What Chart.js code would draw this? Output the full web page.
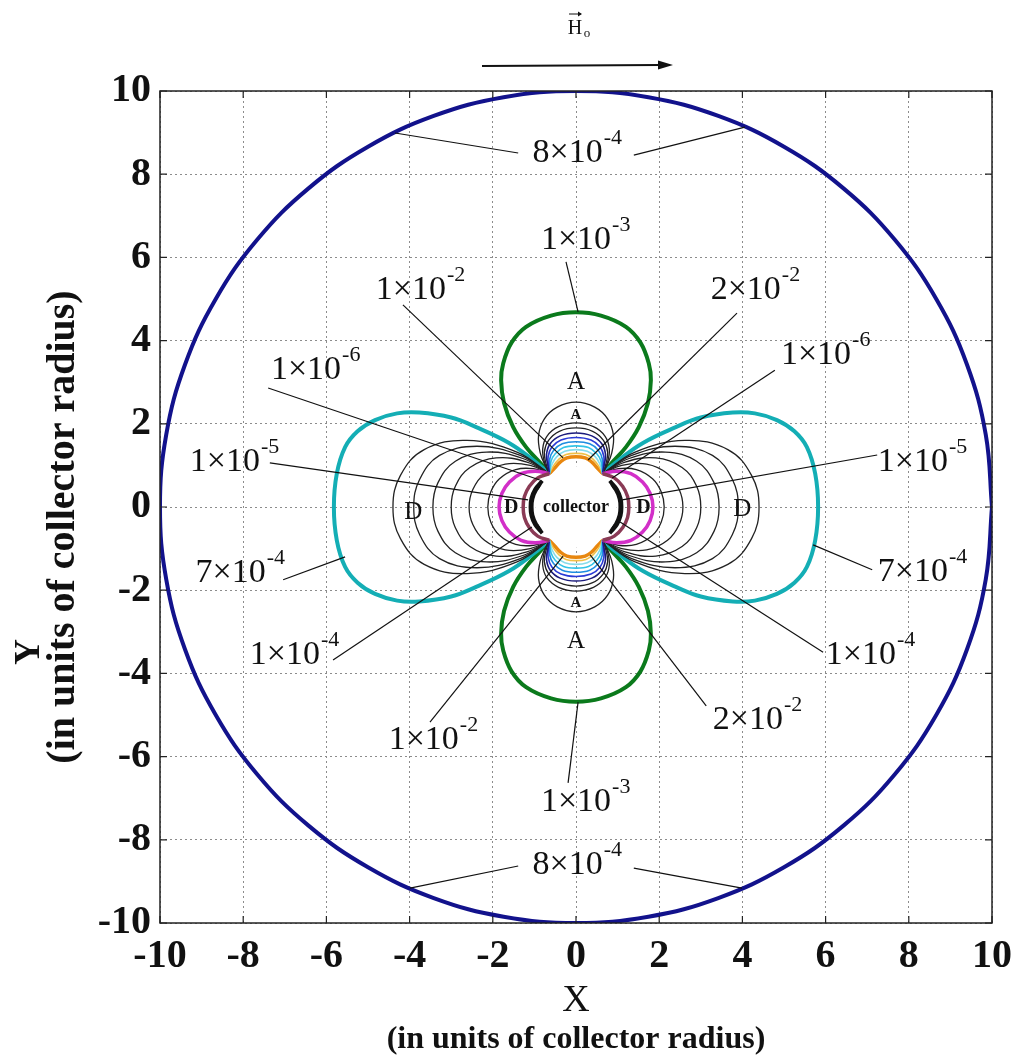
<!DOCTYPE html>
<html>
<head>
<meta charset="utf-8">
<title>Capture contours around the collector</title>
<script src="https://cdn.jsdelivr.net/npm/chart.js@4.4.1/dist/chart.umd.min.js"></script>
<style>
  html, body { margin: 0; padding: 0; background: #fff; }
  #wrap { width: 1014px; height: 1064px; }
</style>
</head>
<body>
<div id="wrap"><canvas id="fieldChart" width="1014" height="1064"></canvas></div>
<script>
// tick positions, in collector radii
const xTicks = [-10, -8, -6, -4, -2, 0, 2, 4, 6, 8, 10];
const yTicks = [-10, -8, -6, -4, -2, 0, 2, 4, 6, 8, 10];

// contour points, one quadrant each (x >= 0, y >= 0); the rest is mirrored
// 8x10^-4 : outer ring, from (r,0) round to (0,r)
const ringQuarter = [[10, 0], [9.85, 1.74], [9.40, 3.42], [8.66, 5.00], [7.66, 6.43],
  [6.43, 7.66], [5.00, 8.66], [3.42, 9.40], [1.74, 9.85], [0, 10]];
// collector surface
const collectorQuarter = [[0.98, 0], [0.905, 0.375], [0.693, 0.693], [0.375, 0.905], [0, 0.98]];

// horizontal (D) lobes, from the cusp near the collector out to the x axis
const cyanLobe = [[0.64, 0.80], [1.03, 1.13], [1.61, 1.54], [2.40, 1.92], [3.00, 2.15], [3.77, 2.27],
  [4.30, 2.25], [4.83, 2.09], [5.25, 1.82], [5.55, 1.44], [5.75, 0.80], [5.82, 0]];
const blackLobesD = [
  [[0.64, 0.80], [1.42, 1.32], [2.62, 1.60], [3.65, 1.38], [4.22, 0.76], [4.40, 0]],
  [[0.64, 0.80], [1.34, 1.24], [2.38, 1.46], [3.28, 1.24], [3.76, 0.66], [3.90, 0]],
  [[0.64, 0.80], [1.26, 1.16], [2.15, 1.32], [2.90, 1.10], [3.32, 0.58], [3.44, 0]],
  [[0.64, 0.80], [1.18, 1.08], [1.92, 1.18], [2.55, 0.95], [2.90, 0.50], [3.00, 0]],
  [[0.64, 0.80], [1.10, 1.00], [1.70, 1.03], [2.20, 0.80], [2.48, 0.42], [2.57, 0]],
  [[0.64, 0.80], [1.02, 0.92], [1.45, 0.90], [1.84, 0.68], [2.05, 0.36], [2.12, 0]]
];
const magentaLobe = [[0.64, 0.80], [0.98, 0.86], [1.32, 0.80], [1.60, 0.60], [1.78, 0.33], [1.85, 0]];
const maroonLobe = [[0.64, 0.80], [0.92, 0.70], [1.12, 0.50], [1.24, 0.25], [1.27, 0]];
const edgeLobe = [[0.80, 0.62], [0.97, 0.42], [1.06, 0.20], [1.08, 0]];

// vertical (A) lobes, from the y axis down to the cusp
const greenLobe = [[0, 4.68], [0.60, 4.60], [1.20, 4.33], [1.55, 3.95], [1.75, 3.45], [1.80, 3.05],
  [1.73, 2.50], [1.51, 1.92], [1.20, 1.44], [0.85, 1.05], [0.64, 0.80]];
const blackLobesA = [
  [[0, 2.52], [0.45, 2.40], [0.76, 2.12], [0.90, 1.72], [0.86, 1.30], [0.72, 0.95], [0.64, 0.80]],
  [[0, 2.02], [0.42, 1.93], [0.70, 1.70], [0.80, 1.40], [0.76, 1.08], [0.64, 0.80]],
  [[0, 1.90], [0.40, 1.82], [0.66, 1.60], [0.76, 1.32], [0.72, 1.04], [0.64, 0.80]]
];
const colourLobesA = [
  [[0, 1.78], [0.38, 1.71], [0.62, 1.52], [0.71, 1.26], [0.68, 1.02], [0.64, 0.80]],
  [[0, 1.67], [0.36, 1.61], [0.58, 1.44], [0.67, 1.21], [0.66, 0.99], [0.64, 0.80]],
  [[0, 1.57], [0.33, 1.52], [0.54, 1.36], [0.63, 1.16], [0.64, 0.80]],
  [[0, 1.47], [0.30, 1.43], [0.50, 1.28], [0.60, 1.10], [0.64, 0.80]],
  [[0, 1.38], [0.27, 1.34], [0.46, 1.21], [0.57, 1.04], [0.64, 0.80]],
  [[0, 1.29], [0.24, 1.26], [0.42, 1.14], [0.54, 0.99], [0.64, 0.80]],
  [[0, 1.21], [0.22, 1.18], [0.38, 1.08], [0.50, 0.95], [0.64, 0.80]]
];
const colourLobesAColors = ['#1b1b7c', '#2a3ad6', '#1f8de0', '#33c4e6', '#86dcea', '#f0c048', '#e8870f'];

// contour level labels: mantissa, exponent
const levelBase = ['8×10', '1×10', '1×10', '2×10', '1×10', '1×10', '1×10', '1×10',
  '7×10', '7×10', '1×10', '1×10', '1×10', '2×10', '1×10', '8×10'];
const levelExp = ['-4', '-3', '-2', '-2', '-6', '-6', '-5', '-5',
  '-4', '-4', '-4', '-4', '-2', '-2', '-3', '-4'];

// label placement (data units): text centre and leader lines [x1, y1, x2, y2]
const levelPlace = [
  { at: [0.02, 8.51], lines: [[-4.35, 8.99, -1.39, 8.51], [1.39, 8.46, 4.06, 9.13]] },
  { at: [0.22, 6.42], lines: [[-0.24, 5.89, 0.05, 4.69]] },
  { at: [-3.75, 5.22], lines: [[-4.16, 4.86, -0.31, 1.18]] },
  { at: [4.30, 5.22], lines: [[3.87, 4.66, 0.29, 1.13]] },
  { at: [-6.27, 3.29], lines: [[-7.40, 2.86, -0.87, 0.65]] },
  { at: [5.99, 3.65], lines: [[4.78, 3.29, 0.87, 0.70]] },
  { at: [-8.22, 1.08], lines: [[-7.36, 1.06, -1.15, 0.17]] },
  { at: [8.32, 1.08], lines: [[7.24, 1.25, 1.11, 0.17]] },
  { at: [-8.08, -1.59], lines: [[-7.04, -1.75, -5.55, -1.20]] },
  { at: [8.32, -1.56], lines: [[7.12, -1.51, 5.70, -0.91]] },
  { at: [-6.78, -3.56], lines: [[-5.84, -3.68, -1.06, -0.48]] },
  { at: [7.07, -3.56], lines: [[5.94, -3.49, 1.06, -0.36]] },
  { at: [-3.44, -5.60], lines: [[-3.51, -5.17, -0.31, -1.18]] },
  { at: [4.35, -5.12], lines: [[3.13, -4.78, 0.34, -1.15]] },
  { at: [0.22, -7.09], lines: [[-0.19, -6.63, 0.05, -4.69]] },
  { at: [0.02, -8.61], lines: [[-3.99, -9.16, -1.39, -8.63], [1.39, -8.68, 3.99, -9.16]] }
];

// region letters (attraction / deposition zones)
const zoneLetters = [
  { t: 'A', x: 0, y: 3.0, big: true }, { t: 'A', x: 0, y: 2.2, big: false },
  { t: 'A', x: 0, y: -2.3, big: false }, { t: 'A', x: 0, y: -3.22, big: true },
  { t: 'D', x: -3.91, y: -0.12, big: true }, { t: 'D', x: 4.0, y: -0.07, big: true },
  { t: 'D', x: -1.56, y: -0.02, big: false }, { t: 'D', x: 1.62, y: -0.02, big: false }
];

const toPts = q => q.map(([a, b]) => ({ x: a, y: b }));
const flipX = pts => pts.map(p => ({ x: -p.x, y: p.y }));
const flipY = pts => pts.map(p => ({ x: p.x, y: -p.y }));

// closed loop from a quarter running (r,0) -> (0,r)
function fullLoop(q) {
  const q1 = toPts(q);
  const q2 = flipX(toPts(q.slice(0, -1).reverse()));
  const q3 = flipY(flipX(toPts(q.slice(1))));
  const q4 = flipY(toPts(q.slice(0, -1).reverse()));
  return q1.concat(q2, q3, q4);
}
// right-hand lobe from a quarter running cusp -> (a,0)
function lobeRight(q) {
  return toPts(q).concat(flipY(toPts(q.slice(0, -1).reverse())));
}
// upper lobe from a quarter running (0,h) -> cusp
function lobeUp(q) {
  return flipX(toPts(q.slice(1).reverse())).concat(toPts(q));
}

function trace(data, color, width) {
  return { data, borderColor: color, borderWidth: width, showLine: true,
           pointRadius: 0, tension: 0.4, fill: false };
}
function pairD(q, color, width) {
  const r = lobeRight(q);
  return [trace(r, color, width), trace(flipX(r), color, width)];
}
function pairA(q, color, width) {
  const u = lobeUp(q);
  return [trace(u, color, width), trace(flipY(u), color, width)];
}

// first dataset is drawn on top
const datasets = [];
datasets.push({ data: fullLoop(collectorQuarter), showLine: true, pointRadius: 0, tension: 0.4,
                borderWidth: 0, borderColor: 'rgba(0,0,0,0)', backgroundColor: '#ffffff', fill: 'shape' });
datasets.push(...pairD(edgeLobe, '#111111', 5));
datasets.push(...pairD(maroonLobe, '#8a3a55', 3.5));
datasets.push(...pairD(magentaLobe, '#d22fc8', 3.5));
colourLobesA.forEach((q, i) => datasets.push(...pairA(q, colourLobesAColors[i], i === colourLobesA.length - 1 ? 3.5 : 1.6)));
blackLobesA.forEach(q => datasets.push(...pairA(q, '#222222', 1.3)));
blackLobesD.forEach(q => datasets.push(...pairD(q, '#222222', 1.3)));
datasets.push(...pairD(cyanLobe, '#14aeb5', 4));
datasets.push(...pairA(greenLobe, '#0b7a1c', 4));
datasets.push(trace(fullLoop(ringQuarter), '#12128c', 4));

const serif = '"Liberation Serif", "Times New Roman", serif';

const annotate = {
  id: 'annotate',
  afterDatasetsDraw(chart) {
    const { ctx, scales: { x, y } } = chart;
    const px = v => x.getPixelForValue(v);
    const py = v => y.getPixelForValue(v);

    ctx.save();
    // leader lines
    ctx.strokeStyle = '#111';
    ctx.lineWidth = 1.2;
    levelPlace.forEach(p => p.lines.forEach(l => {
      ctx.beginPath();
      ctx.moveTo(px(l[0]), py(l[1]));
      ctx.lineTo(px(l[2]), py(l[3]));
      ctx.stroke();
    }));

    // level labels with raised exponent
    ctx.fillStyle = '#111';
    ctx.textBaseline = 'middle';
    ctx.textAlign = 'left';
    levelPlace.forEach((p, i) => {
      ctx.font = '34px ' + serif;
      const w1 = ctx.measureText(levelBase[i]).width;
      ctx.font = '22px ' + serif;
      const w2 = ctx.measureText(levelExp[i]).width;
      const x0 = px(p.at[0]) - (w1 + w2) / 2;
      const y0 = py(p.at[1]);
      ctx.font = '34px ' + serif;
      ctx.fillText(levelBase[i], x0, y0);
      ctx.font = '22px ' + serif;
      ctx.fillText(levelExp[i], x0 + w1 + 1, y0 - 15);
    });

    // zone letters and collector name
    ctx.textAlign = 'center';
    zoneLetters.forEach(z => {
      ctx.font = z.big ? '25px ' + serif : 'bold ' + (z.t === 'D' ? 20 : 15) + 'px ' + serif;
      ctx.fillText(z.t, px(z.x), py(z.y));
    });
    ctx.font = 'bold 18px ' + serif;
    ctx.fillText('collector', px(0), py(0));
    ctx.restore();
  },
  afterDraw(chart) {
    const { ctx, chartArea: a, scales: { x, y } } = chart;
    ctx.save();
    // frame and inward ticks
    ctx.strokeStyle = '#222';
    ctx.lineWidth = 1.5;
    ctx.strokeRect(a.left, a.top, a.right - a.left, a.bottom - a.top);
    ctx.lineWidth = 1.2;
    ctx.beginPath();
    xTicks.forEach(v => {
      const p = x.getPixelForValue(v);
      ctx.moveTo(p, a.bottom); ctx.lineTo(p, a.bottom - 7);
      ctx.moveTo(p, a.top); ctx.lineTo(p, a.top + 7);
    });
    yTicks.forEach(v => {
      const p = y.getPixelForValue(v);
      ctx.moveTo(a.left, p); ctx.lineTo(a.left + 7, p);
      ctx.moveTo(a.right, p); ctx.lineTo(a.right - 7, p);
    });
    ctx.stroke();

    // axis titles
    ctx.fillStyle = '#111';
    ctx.textAlign = 'center';
    ctx.textBaseline = 'middle';
    const cx = x.getPixelForValue(0);
    ctx.font = '38px ' + serif;
    ctx.fillText('X', cx, 1001);
    ctx.font = 'bold 32px ' + serif;
    ctx.fillText('(in units of collector radius)', cx, 1040);

    ctx.save();
    ctx.translate(30, 652);
    ctx.rotate(-Math.PI / 2);
    ctx.font = 'bold 36px ' + serif;
    ctx.fillText('Y', 0, 0);
    ctx.restore();
    ctx.save();
    ctx.translate(64, y.getPixelForValue(0) + 20);
    ctx.rotate(-Math.PI / 2);
    ctx.font = 'bold 40px ' + serif;
    ctx.fillText('(in units of collector radius)', 0, 0);
    ctx.restore();

    // applied field direction
    ctx.font = '20px ' + serif;
    ctx.fillText('H', cx - 1, 29);
    ctx.font = '13px ' + serif;
    ctx.fillText('o', cx + 11, 34);
    ctx.lineWidth = 1;
    ctx.strokeStyle = '#111';
    ctx.beginPath();
    ctx.moveTo(cx - 7, 14); ctx.lineTo(cx + 5, 14);
    ctx.stroke();
    ctx.beginPath();
    ctx.moveTo(cx + 6, 14); ctx.lineTo(cx + 2, 11.5); ctx.lineTo(cx + 2, 16.5);
    ctx.closePath(); ctx.fill();

    ctx.lineWidth = 2;
    ctx.beginPath();
    ctx.moveTo(cx - 94, 66); ctx.lineTo(cx + 84, 65);
    ctx.stroke();
    ctx.beginPath();
    ctx.moveTo(cx + 97, 65); ctx.lineTo(cx + 82, 60.5); ctx.lineTo(cx + 82, 69.5);
    ctx.closePath(); ctx.fill();
    ctx.restore();
  }
};

const tickFont = { family: serif, size: 40, weight: 'bold' };

new Chart(document.getElementById('fieldChart'), {
  type: 'scatter',
  data: { datasets },
  options: {
    responsive: false,
    animation: false,
    events: [],
    layout: { padding: { top: 91, right: 22, left: 0, bottom: 0 } },
    plugins: { legend: { display: false }, tooltip: { enabled: false } },
    scales: {
      x: {
        type: 'linear', min: -10, max: 10,
        afterBuildTicks: s => { s.ticks = xTicks.map(v => ({ value: v })); },
        afterFit: s => { s.height = 141; s.paddingLeft = 0; s.paddingRight = 0; },
        grid: { color: '#8c8c8c', lineWidth: 1, drawTicks: false },
        border: { display: false, dash: [2, 3] },
        ticks: { font: tickFont, color: '#111', padding: 10, maxRotation: 0, autoSkip: false }
      },
      y: {
        type: 'linear', min: -10, max: 10,
        afterBuildTicks: s => { s.ticks = yTicks.map(v => ({ value: v })); },
        afterFit: s => { s.width = 160; s.paddingTop = 0; s.paddingBottom = 0; },
        grid: { color: '#8c8c8c', lineWidth: 1, drawTicks: false },
        border: { display: false, dash: [2, 3] },
        ticks: { font: tickFont, color: '#111', padding: 9, autoSkip: false }
      }
    }
  },
  plugins: [annotate]
});
</script>
</body>
</html>
